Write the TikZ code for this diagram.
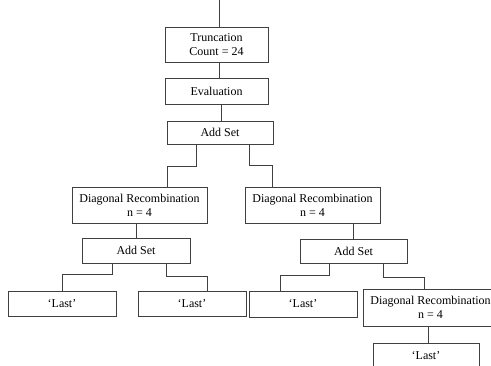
\documentclass[tikz,border=0pt]{standalone}
\usepackage{fontspec}
\setmainfont{Liberation Serif}
\usetikzlibrary{positioning,calc}

\begin{document}
\begin{tikzpicture}[x=1pt,y=-1pt,
        blk/.style={draw=black!75,line width=0.8pt,align=center,inner sep=1pt,
            font=\fontsize{12}{14}\selectfont,minimum height=25pt},
        link/.style={draw=black!75,line width=0.8pt}]
        \useasboundingbox (0,0) rectangle (491,365);
        \clip (0,0) rectangle (491,365);

        \node[blk,minimum width=103pt,minimum height=35pt](trunc)at(216.5,44.5){Truncation\\Count = 24};
        \node[blk,minimum width=103pt,minimum height=26pt](eval)at(216.5,91){Evaluation};
        \node[blk,minimum width=106pt,minimum height=23pt](add)at(220,132.5){Add Set};

        \node[blk,minimum width=135pt,minimum height=36pt](diagL)at(139.5,205){Diagonal Recombination\\n = 4};
        \node[blk,minimum width=135pt,minimum height=36pt](diagR)at(312.5,205){Diagonal Recombination\\n = 4};
        \node[blk,minimum width=108pt](addL)at(136,250.5){Add Set};
        \node[blk,minimum width=107pt,minimum height=24pt](addR)at(353.5,251){Add Set};

        \node[blk,minimum width=108pt](lastA)at(62,303.5){‘Last’};
        \node[blk,minimum width=108pt](lastB)at(192,303.5){‘Last’};
        \node[blk,minimum width=108pt,minimum height=26pt](lastC)at(303,304){‘Last’};
        \node[blk,minimum width=135pt,minimum height=37pt](diagRR)at(430.5,307.5){Diagonal Recombination\\n = 4};
        \node[blk,minimum width=106pt](lastD)at(426,355.5){‘Last’};

        \coordinate (in) at ([xshift=2.5pt]trunc.north |- 0,0);
        \draw[link] (in) -- (in |- trunc.north);
        \draw[link] ([xshift=2.5pt]trunc.south) -- ([xshift=2.5pt]trunc.south |- eval.north);
        \draw[link] ([xshift=1pt]add.north) -- ([xshift=1pt]add.north |- eval.south);

        \draw[link] ([xshift=-24pt]add.south) -- ++(0,22) -| ([xshift=27.5pt]diagL.north);
        \draw[link] ([xshift=29pt]add.south) -- ++(0,21) -| ([xshift=-40.5pt]diagR.north);
        \draw[link] (addL.north) -- (addL.north |- diagL.south);
        \draw[link] (addR.north) -- (addR.north |- diagR.south);

        \draw[link] ([xshift=-24pt]addL.south) -- ++(0,11) -| (lastA.north);
        \draw[link] ([xshift=30pt]addL.south) -- ++(0,13) -| ([xshift=15pt]lastB.north);
        \draw[link] ([xshift=-24.5pt]addR.south) -- ++(0,12) -| ([xshift=-23pt]lastC.north);
        \draw[link] ([xshift=29.5pt]addR.south) -- ++(0,14) -| ([xshift=-6.5pt]diagRR.north);
        \draw[link] ([xshift=2pt]lastD.north) -- ([xshift=2pt]lastD.north |- diagRR.south);
    \end{tikzpicture}
\end{document}
